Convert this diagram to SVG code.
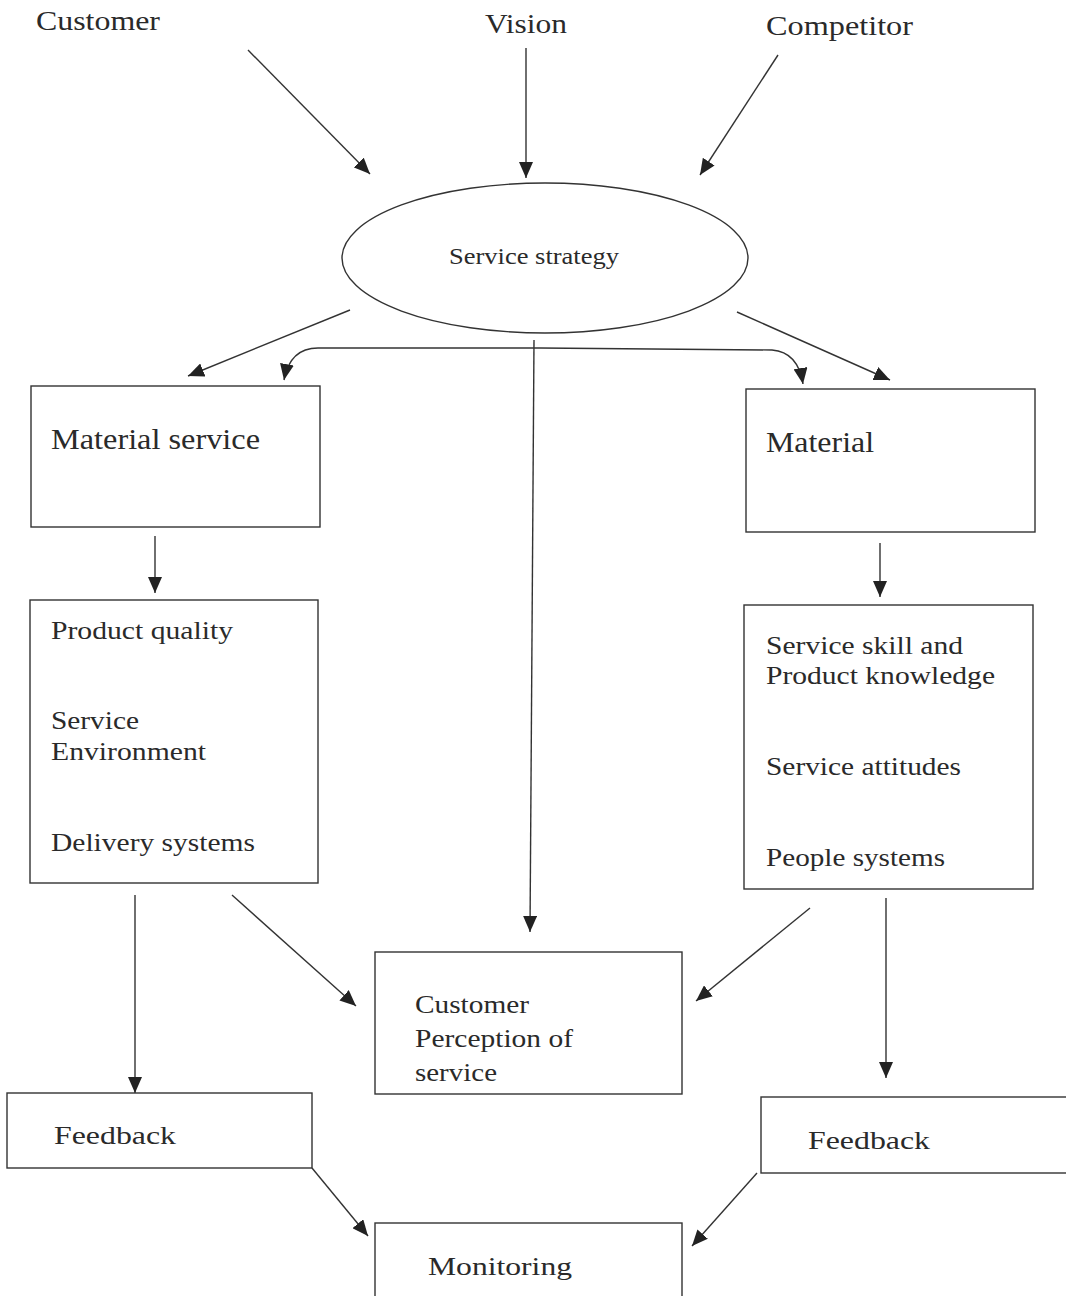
<svg xmlns="http://www.w3.org/2000/svg" width="1066" height="1296" viewBox="0 0 1066 1296">
<style>
text{font-family:"Liberation Serif","Times New Roman",serif;fill:#2a2a2a}
.t{font-size:27px}
.s{font-size:23px}
.b{font-size:29px}
.m{font-size:26px}
rect,ellipse{fill:#fff;stroke:#333;stroke-width:1.4}
.c{fill:none;stroke:#333;stroke-width:1.4;marker-end:url(#ah)}
</style>
<defs>
<marker id="ah" markerUnits="userSpaceOnUse" markerWidth="18" markerHeight="14" refX="16" refY="7" orient="auto">
<path d="M0,0 L16,7 L0,14 Z" fill="#222"/>
</marker>
</defs>
<rect x="0" y="0" width="1066" height="1296" style="fill:#fff;stroke:none"/>
<g id="connectors">
<path class="c" d="M248,50 L370,174"/>
<path class="c" d="M526,48 L526,178"/>
<path class="c" d="M778,55 L700,175"/>
<path class="c" d="M350,310 L188,376"/>
<path class="c" d="M737,312 L890,380"/>
<path class="c" d="M540,348 L318,348 Q290,348 284,380"/>
<path class="c" d="M540,348 L772,350 Q798,352 803,384"/>
<path class="c" d="M534,340 L530,932"/>
<path class="c" d="M155,536 L155,593"/>
<path class="c" d="M880,543 L880,597"/>
<path class="c" d="M135,895 L135,1093"/>
<path class="c" d="M232,895 L356,1006"/>
<path class="c" d="M810,908 L696,1001"/>
<path class="c" d="M886,898 L886,1078"/>
<path class="c" d="M312,1168 L368,1236"/>
<path class="c" d="M757,1173 L692,1246"/>
</g>
<g id="customer"><text class="t" x="36" y="30" textLength="124" lengthAdjust="spacingAndGlyphs">Customer</text></g>
<g id="vision"><text class="t" x="485" y="33" textLength="82" lengthAdjust="spacingAndGlyphs">Vision</text></g>
<g id="competitor"><text class="t" x="766" y="35" textLength="147" lengthAdjust="spacingAndGlyphs">Competitor</text></g>
<g id="strategy">
<ellipse cx="545" cy="258" rx="203" ry="75"/>
<text class="s" x="449" y="264" textLength="170" lengthAdjust="spacingAndGlyphs">Service strategy</text>
</g>
<g id="material-service">
<rect x="31" y="386" width="289" height="141"/>
<text class="b" x="51" y="449" textLength="209" lengthAdjust="spacingAndGlyphs">Material service</text>
</g>
<g id="material">
<rect x="746" y="389" width="289" height="143"/>
<text class="b" x="766" y="452" textLength="108" lengthAdjust="spacingAndGlyphs">Material</text>
</g>
<g id="left-detail">
<rect x="30" y="600" width="288" height="283"/>
<text class="m" x="51" y="639" textLength="182" lengthAdjust="spacingAndGlyphs">Product quality</text>
<text class="m" x="51" y="729" textLength="88" lengthAdjust="spacingAndGlyphs">Service</text>
<text class="m" x="51" y="760" textLength="155" lengthAdjust="spacingAndGlyphs">Environment</text>
<text class="m" x="51" y="851" textLength="204" lengthAdjust="spacingAndGlyphs">Delivery systems</text>
</g>
<g id="right-detail">
<rect x="744" y="605" width="289" height="284"/>
<text class="m" x="766" y="654" textLength="197" lengthAdjust="spacingAndGlyphs">Service skill and</text>
<text class="m" x="766" y="684" textLength="229" lengthAdjust="spacingAndGlyphs">Product knowledge</text>
<text class="m" x="766" y="775" textLength="195" lengthAdjust="spacingAndGlyphs">Service attitudes</text>
<text class="m" x="766" y="866" textLength="179" lengthAdjust="spacingAndGlyphs">People systems</text>
</g>
<g id="perception">
<rect x="375" y="952" width="307" height="142"/>
<text class="m" x="415" y="1013" textLength="114" lengthAdjust="spacingAndGlyphs">Customer</text>
<text class="m" x="415" y="1047" textLength="158" lengthAdjust="spacingAndGlyphs">Perception of</text>
<text class="m" x="415" y="1081" textLength="82" lengthAdjust="spacingAndGlyphs">service</text>
</g>
<g id="feedback-left">
<rect x="7" y="1093" width="305" height="75"/>
<text class="m" x="54" y="1144" textLength="122" lengthAdjust="spacingAndGlyphs">Feedback</text>
</g>
<g id="feedback-right">
<rect x="761" y="1097" width="310" height="76"/>
<text class="m" x="808" y="1149" textLength="122" lengthAdjust="spacingAndGlyphs">Feedback</text>
</g>
<g id="monitoring">
<rect x="375" y="1223" width="307" height="80"/>
<text class="m" x="428" y="1275" textLength="144" lengthAdjust="spacingAndGlyphs">Monitoring</text>
</g>
</svg>
